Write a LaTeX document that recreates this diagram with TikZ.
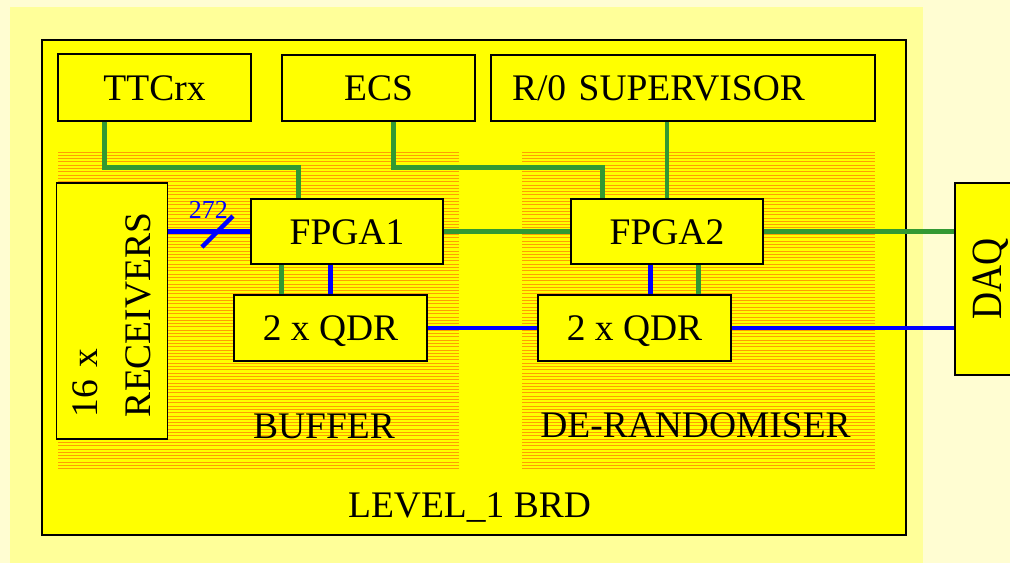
\documentclass[tikz,border=0pt]{standalone}
\usepackage{fontspec}
\setmainfont{Liberation Serif}
\usetikzlibrary{calc}
\definecolor{bgout}{RGB}{255,253,210}
\definecolor{bgin}{RGB}{255,255,153}
\definecolor{ylw}{RGB}{255,255,0}
\definecolor{grn}{RGB}{51,153,51}
\definecolor{blu}{RGB}{0,0,255}
\definecolor{strp}{RGB}{255,160,0}
\begin{document}
\begin{tikzpicture}[x=1pt,y=-1pt,
  boxbase/.style={draw=black,line width=1.4pt,fill=ylw,inner sep=0pt,font=\fontsize{37.5}{45}\selectfont},
  box/.style={boxbase,text height=25pt,text depth=0pt},
  lbl/.style={inner sep=0pt,font=\fontsize{37.5}{45}\selectfont,text height=25pt,text depth=0pt},
  gline/.style={draw=grn,line width=4.5pt},
  bline/.style={draw=blu,line width=4.5pt},
  stripe/.style={draw=strp,line width=1pt}]
\useasboundingbox (0,0) rectangle (1010,563);
\clip (0,0) rectangle (1010,563);
% backgrounds
\fill[bgout] (0,0) rectangle (1010,563);
\fill[bgin] (10,7) rectangle (923,563);
\filldraw[fill=ylw,draw=black,line width=2pt] (42,40) rectangle (906,535);
% striped zones
\foreach \i in {0,...,96}{
  \draw[stripe] (58,152+3.3*\i) -- (459,152+3.3*\i);
  \draw[stripe] (522,152+3.3*\i) -- (875,152+3.3*\i);
}
% zone and board labels
\node[lbl] (buf) at (324,425.5) {BUFFER};
\node[lbl] (derand) at (695.5,425) {DE-RANDOMISER};
\node[lbl] (brd) at (469.5,505) {LEVEL\_1 BRD};
% boxes
\node[box,minimum width=193pt,minimum height=67pt] (ttc) at (154.5,87.5) {TTCrx};
\node[box,minimum width=193pt,minimum height=66pt] (ecs) at (378.5,88) {ECS};
\node[box,minimum width=384pt,minimum height=66pt,text width=342pt,align=left,inner xsep=21pt] (r0) at (683,88) {R/0 SUPERVISOR};
\node[box,minimum width=192pt,minimum height=65pt] (fpga1) at (347,231.5) {FPGA1};
\node[box,minimum width=192pt,minimum height=65pt] (fpga2) at (667,231.5) {FPGA2};
\node[box,minimum width=193pt,minimum height=66pt] (qdr1) at (330.5,328) {2 x QDR};
\node[box,minimum width=193pt,minimum height=66pt] (qdr2) at (634.5,328) {2 x QDR};
\node[boxbase,font=\fontsize{37.5}{53}\selectfont,rotate=90,minimum width=256pt,minimum height=111pt,text width=212pt,inner xsep=22pt,align=left] (recv) at (112,311) {16 x\\RECEIVERS};
\node[boxbase,rotate=90,minimum width=192pt,minimum height=72pt] (daq) at (991,279) {\scalebox{1}[1.15]{DAQ}};
% control connectors (green)
\draw[gline] ($(ttc.south west)+(47,0)$) -- ++(0,46) -| ($(fpga1.north west)+(48,0)$);
\draw[gline] ($(ecs.south west)+(112,0)$) -- ++(0,46) -| ($(fpga2.north west)+(32,0)$);
\draw[gline] (fpga2.north) -- (fpga2.north |- r0.south);
\draw[gline] (fpga1.east) -- (fpga2.west);
\draw[gline] (fpga2.east) -- (fpga2.east -| daq.north);
\draw[gline] ($(fpga1.south west)+(31,0)$) coordinate (g1) -- (g1 |- qdr1.north);
\draw[gline] ($(fpga2.south west)+(128,0)$) coordinate (g2) -- (g2 |- qdr2.north);
% data connectors (blue)
\draw[bline] (recv.south |- fpga1.west) coordinate (rv) -- (fpga1.west);
\draw[bline] ($(rv)!0.6!(fpga1.west)$) coordinate (sl) +(-15.5,15.5) -- +(15.5,-15.5);
\node[inner sep=0pt,text=blu,font=\fontsize{26}{30}\selectfont,text height=17.6pt,text depth=0pt] (n272) at ($(sl)+(-9,-22)$) {272};
\draw[bline] ($(fpga1.south west)+(80,0)$) coordinate (b1) -- (b1 |- qdr1.north);
\draw[bline] ($(fpga2.south west)+(80,0)$) coordinate (b2) -- (b2 |- qdr2.north);
\draw[bline] (qdr1.east) -- (qdr2.west);
\draw[bline] (qdr2.east) -- (qdr2.east -| daq.north);
\end{tikzpicture}
\end{document}
